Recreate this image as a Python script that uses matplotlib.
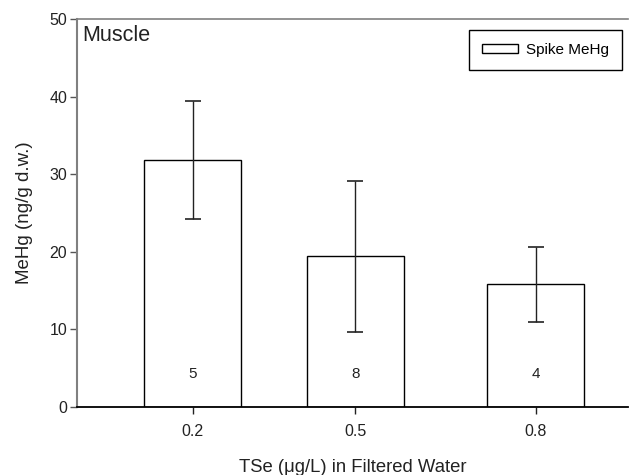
import matplotlib
matplotlib.use("Agg")
import matplotlib.pyplot as plt

plt.rcParams['font.family'] = ['Liberation Sans', 'DejaVu Sans']

# Data
tse_labels = ["0.2", "0.5", "0.8"]
mehg_mean = [31.8, 19.4, 15.8]
mehg_err = [7.6, 9.7, 4.8]
n_counts = ["5", "8", "4"]
series_name = "Spike MeHg"

# Layout (x positions on a 0-1 axis)
xpos = [0.21, 0.505, 0.833]
bar_w = 0.176

fig = plt.figure(figsize=(6.3, 4.75), dpi=100)
ax = fig.add_axes([77/630, 1-407/475, (628-77)/630, (407-19)/475])

ax.bar(xpos, mehg_mean, width=bar_w, color='white', edgecolor='black',
       linewidth=1.0, label=series_name, zorder=2)
ax.errorbar(xpos, mehg_mean, yerr=mehg_err, fmt='none', ecolor='#222222',
            elinewidth=1.0, capsize=6, capthick=1.2, zorder=3)
for x, n in zip(xpos, n_counts):
    ax.text(x, 4.2, n, ha='center', va='center', fontsize=11, color='#222222')

ax.set_xlim(0, 1)
ax.set_ylim(0, 50)
ax.set_xticks(xpos)
ax.set_xticklabels(tse_labels)
ax.set_yticks([0, 10, 20, 30, 40, 50])

ax.spines['right'].set_visible(False)
ax.spines['top'].set_color('#808080')
ax.spines['top'].set_linewidth(1.2)
ax.spines['left'].set_color('#808080')
ax.spines['left'].set_linewidth(1.5)
ax.spines['bottom'].set_color('black')
ax.spines['bottom'].set_linewidth(1.3)

ax.tick_params(axis='y', direction='out', length=5, width=1, color='#555555',
               labelsize=11.5, pad=2, labelcolor='#222222')
ax.tick_params(axis='x', direction='out', length=5, width=1, color='#222222',
               labelsize=11.5, pad=7, labelcolor='#222222')

ax.set_xlabel("TSe (\u03bcg/L) in Filtered Water", fontsize=13.3, labelpad=15,
              color='#222222')
ax.set_ylabel("MeHg (ng/g d.w.)", fontsize=13.5, labelpad=12, color='#222222')

ax.text(0.01, 0.985, "Muscle", transform=ax.transAxes, ha='left', va='top',
        fontsize=15.5, color='#222222')

leg = ax.legend(loc='upper right', bbox_to_anchor=(0.989, 0.9716),
                borderaxespad=0, fancybox=False, edgecolor='black',
                fontsize=11, handlelength=2.4, handleheight=0.6,
                handletextpad=0.5, borderpad=0.85, framealpha=1)
leg.get_frame().set_linewidth(1.0)

fig.savefig("out.png", dpi=100)
